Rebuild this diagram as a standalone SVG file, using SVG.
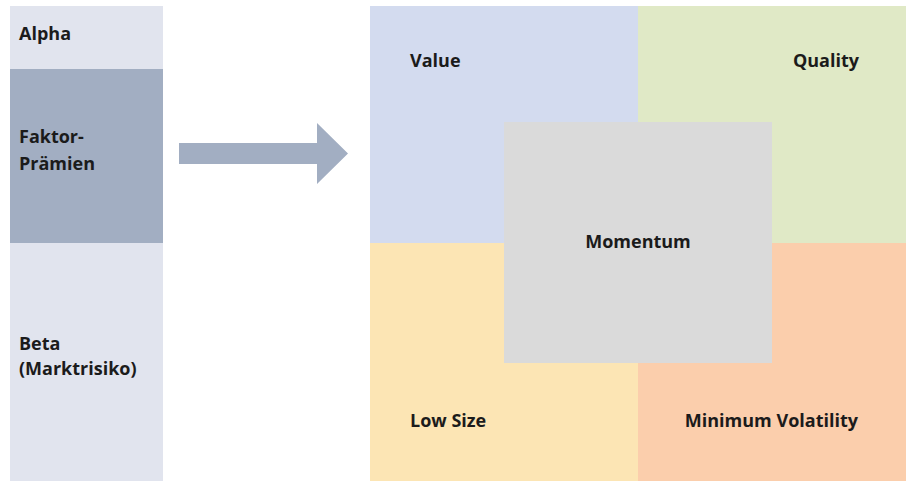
<svg xmlns="http://www.w3.org/2000/svg" width="906" height="481" viewBox="0 0 906 481">
  <style>
    text { font-family: "Open Sans", "Liberation Sans", sans-serif; font-weight: bold; font-size: 18px; fill: #1b1b1b; }
    .light { fill: #E1E4EE; }
    .dark { fill: #A2AEC2; }
  </style>
  <rect width="906" height="481" fill="#ffffff"/>

  <!-- return stack -->
  <g id="alpha">
    <rect class="light" x="10" y="6" width="153" height="63"/>
    <text x="19" y="40">Alpha</text>
  </g>
  <g id="faktor-praemien">
    <rect class="dark" x="10" y="69" width="153" height="174"/>
    <text x="19" y="143">Faktor-</text>
    <text x="19" y="170">Prämien</text>
  </g>
  <g id="beta">
    <rect class="light" x="10" y="243" width="153" height="238"/>
    <text x="19" y="350">Beta</text>
    <text x="19" y="375">(Marktrisiko)</text>
  </g>

  <!-- connector -->
  <g id="connectors">
    <polygon class="dark" points="179,143 317,143 317,123 348,153.5 317,184 317,164 179,164"/>
  </g>

  <!-- factor quadrants -->
  <g id="value">
    <rect x="370" y="6" width="268" height="237" fill="#D3DBEF"/>
    <text x="410" y="67">Value</text>
  </g>
  <g id="quality">
    <rect x="638" y="6" width="268" height="237" fill="#E0E9C6"/>
    <text x="859" y="67" text-anchor="end">Quality</text>
  </g>
  <g id="low-size">
    <rect x="370" y="243" width="268" height="238" fill="#FCE5B4"/>
    <text x="410" y="427">Low Size</text>
  </g>
  <g id="minimum-volatility">
    <rect x="638" y="243" width="268" height="238" fill="#FBCEAC"/>
    <text x="858" y="427" text-anchor="end">Minimum Volatility</text>
  </g>
  <g id="momentum">
    <rect x="504" y="122" width="268" height="241" fill="#DADADA"/>
    <text x="638" y="248" text-anchor="middle">Momentum</text>
  </g>
</svg>
